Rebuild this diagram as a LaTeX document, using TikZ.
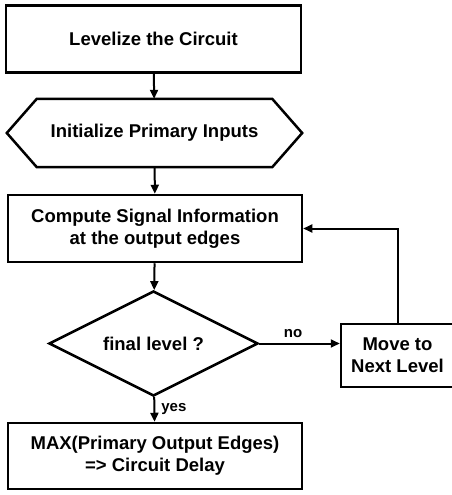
\documentclass[tikz,border=0pt]{standalone}
\usepackage{fontspec}
\setmainfont{Liberation Sans}
\usetikzlibrary{shapes.geometric,arrows.meta}

\begin{document}
\begin{tikzpicture}[x=1pt, y=-1pt,
            every node/.style={font=\bfseries\fontsize{18.5}{22}\selectfont, align=center, inner sep=0pt},
            box/.style={draw, line width=2.5pt, minimum width=295pt, minimum height=67pt},
            label/.style={font=\bfseries\fontsize{15}{18}\selectfont}]
            \useasboundingbox (0,0) rectangle (451,495);
            \node[box](levelize) at (153.5, 39) {Levelize the Circuit};
            \node[minimum width=295pt, minimum height=68pt](init) at (154.5, 133) {Initialize Primary Inputs};
            \draw[line width=2.5pt, line join=miter]
                ([xshift=30pt]init.north west) -- ([xshift=-30pt]init.north east) -- (init.east)
                -- ([xshift=-30pt]init.south east) -- ([xshift=30pt]init.south west) -- (init.west) -- cycle;
            \node[box, minimum width=294pt](compute) at (155, 228.5) {Compute Signal Information\\at the output edges};
            \node[draw, diamond, aspect=2, line width=2.5pt, minimum width=209pt, minimum height=105pt](final) at (153.5, 343.5) {final level ?};
            \node[box, minimum width=113pt, minimum height=63pt](move) at (397.5, 355.5) {Move to\\Next Level};
            \node[box, minimum width=294pt, minimum height=66pt](result) at (155, 456) {MAX(Primary Output Edges)\\=> Circuit Delay};

            \begin{scope}[-{Triangle[length=9pt, width=8pt]}, line width=2pt]
                \draw(levelize)--(init);
                \draw(init)--(compute);
                \draw(compute)--(final);
                \draw(final)--(result) node[label, pos=0.5, right=6pt] {yes};
                \draw(final.east)--(final.east -| move.west) node[label, pos=0.42, above=5pt] {no};
                \draw(move.north)|-(compute.east);
            \end{scope}
        \end{tikzpicture}
\end{document}
